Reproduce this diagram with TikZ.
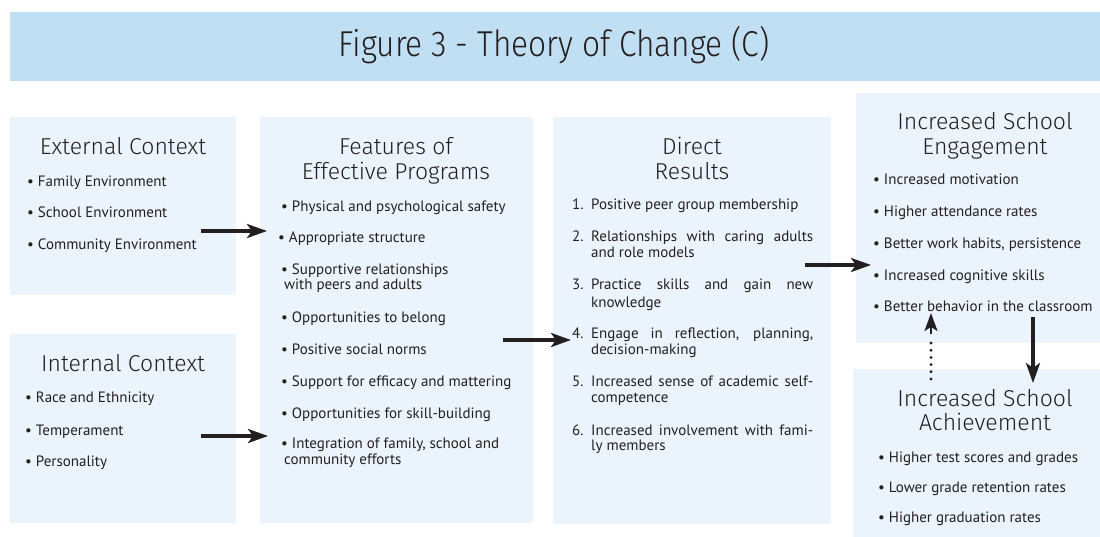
\documentclass[tikz,border=0pt]{standalone}
\usepackage{fontspec}
\setmainfont{PT Sans}
\newfontfamily\headfam{Fira Sans}[UprightFont=* Light]
\usetikzlibrary{arrows.meta}
\definecolor{bandc}{HTML}{C1DFF3}
\definecolor{boxc}{HTML}{EBF4FC}
\definecolor{txt}{HTML}{231F20}
\newcommand{\hsz}{\headfam\fontsize{23}{26}\selectfont}
\newcommand{\isz}{\fontsize{15}{18}\selectfont}
\newcommand{\jl}[1]{\makebox[222pt][s]{#1}}
\begin{document}
\begin{tikzpicture}[x=1pt,y=-1pt,
  box/.style={fill=boxc, draw=none, inner sep=0, minimum width=#1},
  hd/.style={font=\hsz, text=txt, anchor=base, inner sep=0},
  itm/.style={font=\isz, text=txt, anchor=base west, inner sep=0},
  arr/.style={draw=txt, line width=3.5pt, -{Stealth[length=20pt,width=14pt,inset=5pt]}},
  dotl/.style={draw=txt, line width=3.2pt, line cap=round, dash pattern=on 0pt off 7.2pt}]
\useasboundingbox (0,0) rectangle (1100,537);
% title band
\node[fill=bandc, inner sep=0, minimum width=1090pt, minimum height=69pt] (band) at (555,46.5) {};
\node[font=\headfam\fontsize{36}{40}\selectfont, text=txt, anchor=base, inner sep=0] (title) at (554,57) {\scalebox{0.88}[1]{Figure 3 - Theory of Change (C)}};
% boxes
\node[box=226pt, minimum height=178pt] (ext) at (123,206) {};
\node[box=226pt, minimum height=189pt] (int) at (123,428.5) {};
\node[box=273pt, minimum height=406pt] (feat) at (396.5,320) {};
\node[box=278pt, minimum height=407pt] (dir) at (692,320.5) {};
\node[box=244pt, minimum height=250pt] (eng) at (978,218) {};
\node[box=247pt, minimum height=168pt] (ach) at (976.5,453) {};
% External
\node[hd] (exth) at (123,155) {External Context};
\node[itm] (ext1) at (27,187) {• Family Environment};
\node[itm] (ext2) at (27,218) {• School Environment};
\node[itm] (ext3) at (27,250) {• Community Environment};
% Internal
\node[hd] (inth) at (123,371) {Internal Context};
\node[itm] (int1) at (25,402) {• Race and Ethnicity};
\node[itm] (int2) at (25,435) {• Temperament};
\node[itm] (int3) at (25,466) {• Personality};
% Features
\node[hd] (feath1) at (396,155) {Features of};
\node[hd] (feath2) at (396,180) {Effective Programs};
\node[itm] (f1) at (281,212) {• Physical and psychological safety};
\node[itm] (f2) at (278,243) {• Appropriate structure};
\node[itm] (f3) at (281,275) {• Supportive relationships};
\node[itm] (f3b) at (284,290) {with peers and adults};
\node[itm] (f4) at (281,323) {• Opportunities to belong};
\node[itm] (f5) at (281,354) {• Positive social norms};
\node[itm] (f6) at (281,386) {• Support for efficacy and mattering};
\node[itm] (f7) at (281,418) {• Opportunities for skill-building};
\node[itm] (f8) at (281,448) {• Integration of family, school and};
\node[itm] (f8b) at (284,464) {community efforts};
% Direct results
\node[hd] (dirh1) at (692,155) {Direct};
\node[hd] (dirh2) at (692,180) {Results};
\node[itm] (d1n) at (572,210) {1.};
\node[itm] (d1) at (591,210) {Positive peer group membership};
\node[itm] (d2n) at (572,242) {2.};
\node[itm] (d2) at (591,242) {\jl{Relationships with caring adults}};
\node[itm] (d2b) at (591,258) {and role models};
\node[itm] (d3n) at (572,290) {3.};
\node[itm] (d3) at (591,290) {\jl{Practice skills and gain new}};
\node[itm] (d3b) at (591,307) {knowledge};
\node[itm] (d4n) at (572,338) {4.};
\node[itm] (d4) at (591,338) {\jl{Engage in reflection, planning,}};
\node[itm] (d4b) at (591,354) {decision-making};
\node[itm] (d5n) at (572,386) {5.};
\node[itm] (d5) at (591,386) {\jl{Increased sense of academic self-}};
\node[itm] (d5b) at (591,402) {competence};
\node[itm] (d6n) at (572,435) {6.};
\node[itm] (d6) at (591,435) {\jl{Increased involvement with fami-}};
\node[itm] (d6b) at (591,450) {ly members};
% Engagement
\node[hd] (engh1) at (985,130) {Increased School};
\node[hd] (engh2) at (985,155) {Engagement};
\node[itm] (e1) at (873,185) {• Increased motivation};
\node[itm] (e2) at (873,217) {• Higher attendance rates};
\node[itm] (e3) at (873,249) {• Better work habits, persistence};
\node[itm] (e4) at (873,280) {• Increased cognitive skills};
\node[itm] (e5) at (873,312) {• Better behavior in the classroom};
% Achievement
\node[hd] (achh1) at (985,406) {Increased School};
\node[hd] (achh2) at (985,430) {Achievement};
\node[itm] (a1) at (878,462) {• Higher test scores and grades};
\node[itm] (a2) at (878,492) {• Lower grade retention rates};
\node[itm] (a3) at (878,522) {• Higher graduation rates};
% connectors
\coordinate (c1s) at (201,231); \coordinate (c1e) at (267,231);
\coordinate (c2s) at (201,436); \coordinate (c2e) at (268,436);
\coordinate (c3s) at (503,340); \coordinate (c3e) at (571,340);
\coordinate (c4s) at (805,265); \coordinate (c4e) at (871,265);
\coordinate (c5s) at (1033,317); \coordinate (c5e) at (1033,383);
\coordinate (c6s) at (931,379); \coordinate (c6m) at (931,336); \coordinate (c6h) at (931,334); \coordinate (c6e) at (931,313);
\draw[arr] (c1s) -- (c1e);
\draw[arr] (c2s) -- (c2e);
\draw[arr] (c3s) -- (c3e);
\draw[arr] (c4s) -- (c4e);
\draw[arr] (c5s) -- (c5e);
\draw[dotl] (c6s) -- (c6m);
\draw[draw=txt, line width=2pt, -{Stealth[length=18pt,width=13pt,inset=4pt]}] (c6h) -- (c6e);
\end{tikzpicture}
\end{document}
